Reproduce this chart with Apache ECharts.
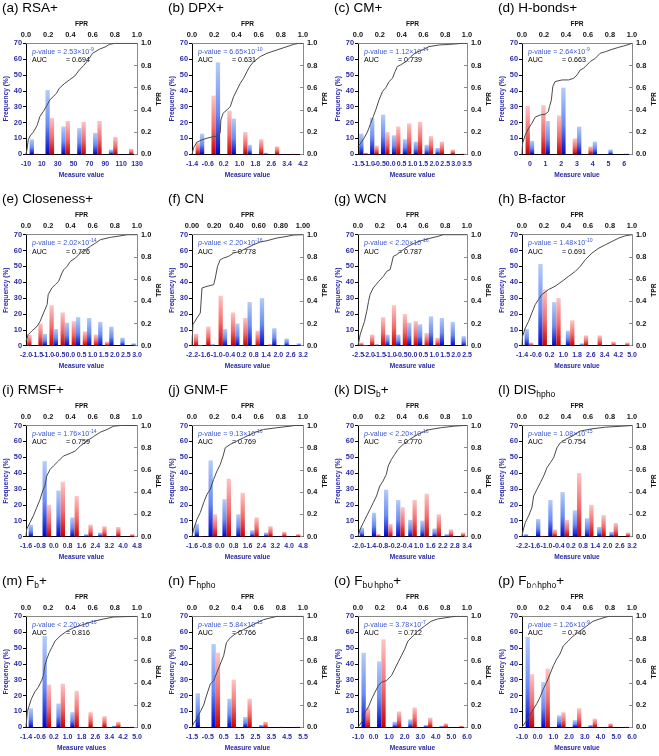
<!DOCTYPE html>
<html><head><meta charset="utf-8">
<script src="https://cdn.jsdelivr.net/npm/echarts@6/dist/echarts.min.js"></script>
<style>html,body{margin:0;padding:0;background:#fff}#c{width:659px;height:756px}</style>
</head><body><div id="c"></div>
<script>
// ---------- DATA ----------
const panelIds = ['a','b','c','d','e','f','g','h','i','j','k','l','m','n','o','p'];
const titleParts = [['RSA+'],['DPX+'],['CM+'],['H-bonds+'],['Closeness+'],['CN'],['WCN'],['B-factor'],['RMSF+'],['GNM-F'],['DIS','b','+'],['DIS','hpho',''],['F','b','+'],['F','hpho',''],['F','b\u222Ahpho','+'],['F','b\u2229hpho','+']];
const xNames = ['Measure value','Measure value','Measure value','Measure value','Measure value','Measure value','Measure value','Measure value','Measure value','Measure value','Measure value','Measure value','Measure values','Measure value','Measure value','Measure value'];
const pOps = ['=','=','=','=','=','<','<','=','=','=','<','=','<','=','=','='];
const pMant = ['2.53','6.65','1.12','2.64','2.02','2.20','2.20','1.48','1.76','9.13','2.20','1.08','2.20','5.84','3.78','1.26'];
const pExp = ['-9','-10','-14','-9','-14','-16','-16','-10','-14','-16','-16','-15','-16','-15','-7','-9'];
const aucValues = ['0.694','0.631','0.739','0.663','0.726','0.778','0.787','0.691','0.759','0.769','0.770','0.754','0.816','0.766','0.712','0.746'];
const redFirstPanels = ['b','d','e','f','g'];
const fprDecimals = [1,1,1,1,1,2,1,1,1,1,1,1,1,1,1,1];

const tickLabels = [
 ['-10','10','30','50','70','90','110','130'],
 ['-1.4','-0.6','0.2','1.0','1.8','2.6','3.4','4.2'],
 ['-1.5','-1.0','-0.5','0.0','0.5','1.0','1.5','2.0','2.5','3.0','3.5'],
 ['0','1','2','3','4','5','6'],
 ['-2.0','-1.5','-1.0','-0.5','0.0','0.5','1.0','1.5','2.0','2.5','3.0'],
 ['-2.2','-1.6','-1.0','-0.4','0.2','0.8','1.4','2.0','2.6','3.2'],
 ['-2.5','-2.0','-1.5','-1.0','-0.5','0.0','0.5','1.0','1.5','2.0','2.5'],
 ['-1.4','-0.6','0.2','1.0','1.8','2.6','3.4','4.2','5.0'],
 ['-1.6','-0.8','0.0','0.8','1.6','2.4','3.2','4.0','4.8'],
 ['-1.6','-0.8','0.0','0.8','1.6','2.4','3.2','4.0','4.8'],
 ['-2.0','-1.4','-0.8','-0.2','-0.4','1.0','1.6','2.2','2.8','3.4'],
 ['-2.2','-1.6','-1.0','-0.4','0.2','0.8','1.4','2.0','2.6','3.2'],
 ['-1.4','-0.6','0.2','1.0','1.8','2.6','3.4','4.2','5.0'],
 ['-1.5','-0.5','0.5','1.5','2.5','3.5','4.5','5.5'],
 ['-1.0','0.0','1.0','2.0','3.0','4.0','5.0','6.0'],
 ['-1.0','0.0','1.0','2.0','3.0','4.0','5.0','6.0']
];
const blueValues = [
 [9.5,40.5,17.5,16.5,13.5,3,0.3],
 [13,58,22.5,6,1,0.3,0],
 [13,23,25,12,9.5,8,6,4,0,0],
 [8.5,21,42,17.5,8,3,0.5],
 [0,7.5,10.5,14.5,18,17.5,15,12,5,1.5],
 [0.3,1,10.5,14,27.5,30,11,4.5,1.5],
 [0.3,1,7,7,14.5,13.5,18.5,17.5,15,6],
 [10.5,51.5,27.5,9.5,1.5,0,0,0],
 [7.5,47.5,29,12,1.5,2.5,0.5,0],
 [8,48,23.5,14,4,2.5,0.5,0],
 [5.5,15,29.5,23,10.5,10,5,1.5,0],
 [1.5,11,23,28,16.5,11.5,6,3,0],
 [12,57.5,15,9.5,0.3,0.2,1,0],
 [21.5,52.5,18,6.5,1.5,0,0],
 [47,41.5,3.5,5,1.5,1,0],
 [57,28.5,7.5,4.5,1.5,0.3,0]
];
const redValues = [
 [0.5,23,21,20.5,21,11,3.5],
 [7.5,37,27.5,14,9.5,5,0.5],
 [1,5.5,14,17.5,19.5,20.5,11.5,8,3,0.5],
 [30.5,31,24.5,10,5,0,0],
 [7,14,25.5,21,15.5,9,7,2.5,0,0],
 [7.5,12,31.5,21,17.5,9.5,1,0.3,0],
 [2,7,18,25.5,20,15.5,8,5,0,0],
 [2,35.5,30,16,6.5,6.5,2.5,2],
 [0,20,34.5,25.5,7.5,6.5,6,1.5],
 [0.3,14,36.5,27.5,12,6.5,3,1.5],
 [0,1.5,8,18.5,23,27,14,4.5,2.5],
 [0,0.5,4.5,10.5,40,20,13.5,8.5,2.5],
 [0,27,27.5,23,9.5,7,3.5,0.5],
 [0,47,30,18,3.5,0.5,0.5],
 [12.5,55.5,10,12.5,6,2.5,1],
 [33.5,37,9.5,12,5.5,2.5,0.5]
];
// ROC curves: [FPR, TPR]
const rocCurves = [
 [[0,0],[0.01,0.05],[0.02,0.13],[0.036,0.165],[0.066,0.2],[0.1,0.26],[0.125,0.34],[0.155,0.385],[0.185,0.435],[0.215,0.49],[0.245,0.52],[0.275,0.55],[0.3,0.595],[0.35,0.64],[0.39,0.67],[0.44,0.705],[0.48,0.76],[0.52,0.8],[0.56,0.85],[0.6,0.91],[0.66,0.946],[0.72,0.97],[0.75,0.99],[0.8,1],[1,1]],
 [[0,0],[0.015,0.06],[0.045,0.11],[0.09,0.13],[0.135,0.145],[0.195,0.16],[0.24,0.165],[0.255,0.2],[0.26,0.31],[0.28,0.37],[0.315,0.4],[0.345,0.43],[0.375,0.52],[0.405,0.58],[0.435,0.64],[0.465,0.685],[0.495,0.745],[0.52,0.79],[0.555,0.835],[0.615,0.88],[0.675,0.91],[0.765,0.94],[0.855,0.97],[0.915,0.99],[0.96,1],[1,1]],
 [[0,0.07],[0.025,0.1],[0.055,0.145],[0.086,0.2],[0.117,0.28],[0.14,0.34],[0.163,0.4],[0.193,0.49],[0.224,0.565],[0.255,0.6],[0.285,0.655],[0.316,0.685],[0.34,0.745],[0.36,0.79],[0.39,0.805],[0.44,0.835],[0.485,0.88],[0.53,0.916],[0.59,0.94],[0.65,0.97],[0.745,0.985],[0.84,0.99],[0.96,1],[1,1]],
 [[0,0],[0.005,0.1],[0.03,0.175],[0.06,0.235],[0.09,0.28],[0.12,0.335],[0.167,0.355],[0.21,0.36],[0.24,0.385],[0.25,0.43],[0.267,0.49],[0.28,0.61],[0.3,0.655],[0.364,0.67],[0.424,0.67],[0.47,0.685],[0.5,0.715],[0.53,0.76],[0.56,0.775],[0.59,0.805],[0.62,0.835],[0.667,0.865],[0.71,0.91],[0.76,0.925],[0.82,0.946],[0.88,0.964],[0.924,0.976],[0.955,0.985],[0.96,1],[1,1]],
 [[0,0.04],[0.02,0.1],[0.05,0.13],[0.1,0.175],[0.127,0.22],[0.158,0.295],[0.19,0.37],[0.2,0.46],[0.233,0.52],[0.264,0.55],[0.294,0.58],[0.324,0.655],[0.34,0.685],[0.37,0.715],[0.4,0.76],[0.445,0.79],[0.49,0.835],[0.536,0.865],[0.58,0.895],[0.627,0.925],[0.67,0.955],[0.76,0.976],[0.82,0.985],[0.915,1],[1,1]],
 [[0,0],[0.008,0.19],[0.045,0.25],[0.075,0.295],[0.09,0.52],[0.135,0.535],[0.195,0.55],[0.21,0.61],[0.23,0.715],[0.255,0.775],[0.285,0.79],[0.33,0.805],[0.375,0.835],[0.435,0.85],[0.495,0.88],[0.555,0.91],[0.615,0.934],[0.675,0.946],[0.765,0.97],[0.855,0.985],[0.915,0.997],[1,1]],
 [[0,0],[0.02,0.1],[0.04,0.16],[0.06,0.22],[0.08,0.31],[0.097,0.4],[0.11,0.46],[0.14,0.52],[0.19,0.58],[0.233,0.625],[0.264,0.67],[0.294,0.685],[0.31,0.745],[0.324,0.805],[0.355,0.82],[0.415,0.865],[0.46,0.895],[0.52,0.925],[0.58,0.946],[0.67,0.97],[0.733,0.985],[0.78,1],[1,1]],
 [[0,0],[0.005,0.085],[0.03,0.16],[0.06,0.22],[0.09,0.295],[0.12,0.37],[0.15,0.415],[0.18,0.46],[0.24,0.505],[0.3,0.535],[0.364,0.58],[0.424,0.625],[0.485,0.67],[0.53,0.715],[0.576,0.775],[0.636,0.835],[0.7,0.88],[0.76,0.91],[0.82,0.94],[0.88,0.97],[0.94,0.99],[1,1]],
 [[0,0],[0.006,0.066],[0.036,0.126],[0.066,0.186],[0.096,0.26],[0.127,0.335],[0.15,0.41],[0.17,0.455],[0.187,0.545],[0.217,0.605],[0.247,0.635],[0.292,0.68],[0.337,0.725],[0.4,0.75],[0.443,0.77],[0.488,0.814],[0.548,0.86],[0.608,0.9],[0.67,0.94],[0.73,0.964],[0.79,0.994],[0.85,1],[1,1]],
 [[0,0],[0.015,0.066],[0.045,0.156],[0.075,0.216],[0.105,0.305],[0.135,0.38],[0.165,0.425],[0.195,0.515],[0.225,0.59],[0.255,0.65],[0.28,0.725],[0.3,0.8],[0.345,0.83],[0.405,0.86],[0.465,0.89],[0.555,0.934],[0.645,0.964],[0.765,0.98],[0.885,0.994],[0.92,1],[1,1]],
 [[0,0],[0.02,0.066],[0.05,0.126],[0.08,0.186],[0.11,0.245],[0.14,0.305],[0.17,0.365],[0.2,0.455],[0.23,0.5],[0.26,0.56],[0.277,0.635],[0.307,0.695],[0.337,0.74],[0.367,0.785],[0.413,0.83],[0.473,0.874],[0.548,0.92],[0.64,0.96],[0.76,0.98],[0.88,0.994],[0.97,1],[1,1]],
 [[0,0],[0.009,0.05],[0.03,0.126],[0.06,0.186],[0.09,0.26],[0.106,0.365],[0.136,0.425],[0.167,0.485],[0.197,0.545],[0.227,0.62],[0.258,0.665],[0.288,0.71],[0.318,0.8],[0.348,0.844],[0.394,0.874],[0.455,0.904],[0.53,0.95],[0.636,0.97],[0.758,0.985],[0.91,0.994],[1,1]],
 [[0,0],[0.012,0.14],[0.03,0.2],[0.05,0.26],[0.08,0.32],[0.11,0.36],[0.14,0.42],[0.157,0.466],[0.17,0.555],[0.187,0.614],[0.21,0.674],[0.232,0.718],[0.262,0.777],[0.307,0.822],[0.367,0.866],[0.428,0.896],[0.518,0.926],[0.608,0.955],[0.7,0.976],[0.79,0.994],[0.804,1],[1,1]],
 [[0,0],[0.015,0.036],[0.045,0.08],[0.075,0.14],[0.105,0.2],[0.135,0.3],[0.165,0.39],[0.195,0.42],[0.225,0.496],[0.255,0.57],[0.285,0.644],[0.31,0.763],[0.345,0.807],[0.405,0.852],[0.465,0.88],[0.555,0.926],[0.645,0.97],[0.705,0.985],[0.766,1],[1,1]],
 [[0,0],[0.036,0.05],[0.066,0.14],[0.096,0.184],[0.127,0.258],[0.157,0.318],[0.187,0.377],[0.217,0.407],[0.262,0.42],[0.307,0.466],[0.337,0.525],[0.367,0.585],[0.398,0.644],[0.428,0.703],[0.458,0.777],[0.503,0.822],[0.548,0.866],[0.608,0.91],[0.67,0.955],[0.73,0.976],[0.79,0.985],[0.85,0.994],[0.9,1],[1,1]],
 [[0,0],[0.045,0.065],[0.09,0.14],[0.135,0.214],[0.165,0.273],[0.195,0.347],[0.225,0.407],[0.255,0.48],[0.285,0.555],[0.315,0.614],[0.345,0.66],[0.375,0.733],[0.42,0.777],[0.465,0.822],[0.525,0.866],[0.585,0.91],[0.645,0.955],[0.706,0.976],[0.766,0.994],[0.795,1],[1,1]]
];
const freqTicks = {min:0, max:70, interval:10};
const rateTicks = {min:0, max:1, interval:0.2};

// ---------- LAYOUT / STYLE ----------
const colLeft = [26, 192, 358, 522];
const colWidth = [111, 111, 109, 110];
const rowTop = [43.3, 234.7, 425.5, 616.3];
const plotH = 111;
const FONT = 'Liberation Sans, Arial, Helvetica, sans-serif';
const axisBlue = '#2a2aa6';
const pBlue = '#3a58d6';
const tickSize = 7.4, xTickSize = 7, nameSize = 6.6, noteSize = 7.1;

const chart = echarts.init(document.getElementById('c'), null, {renderer:'canvas'});
const grids = [], xAxes = [], yAxes = [], series = [], graphics = [];

function gradBlue(){ return new echarts.graphic.LinearGradient(0,0,0,1,[{offset:0,color:'#b6ccf8'},{offset:0.55,color:'#6a8cf2'},{offset:1,color:'#0008c8'}]); }
function gradRed(){ return new echarts.graphic.LinearGradient(0,0,0,1,[{offset:0,color:'#fcc6c6'},{offset:0.55,color:'#f26a6a'},{offset:1,color:'#c80000'}]); }

panelIds.forEach((id, i) => {
  const c = i % 4, r = Math.floor(i / 4);
  const L = colLeft[c], W = colWidth[c], T = rowTop[r];
  grids.push({left:L, top:T, width:W, height:plotH, containLabel:false});
  const nb = blueValues[i].length;
  const bins = blueValues[i].map((_, j) => 'bin' + j);
  const xb = xAxes.length;
  xAxes.push({type:'category', gridIndex:i, data:bins, boundaryGap:true, position:'bottom',
    axisLine:{lineStyle:{color:'#000', width:1}}, axisTick:{show:false}, axisLabel:{show:false}, splitLine:{show:false}});
  xAxes.push({type:'category', gridIndex:i, data:tickLabels[i], boundaryGap: tickLabels[i].length === nb, position:'bottom',
    axisLine:{show:false}, axisTick:{show:false}, splitLine:{show:false},
    axisLabel:{interval:0, color:axisBlue, fontWeight:'bold', fontSize:xTickSize, fontFamily:FONT, margin:6},
    name:xNames[i], nameLocation:'middle', nameGap:17,
    nameTextStyle:{color:axisBlue, fontWeight:'bold', fontSize:nameSize, fontFamily:FONT}});
  const dec = fprDecimals[i];
  xAxes.push({type:'value', gridIndex:i, position:'top', min:rateTicks.min, max:rateTicks.max, interval:rateTicks.interval,
    axisLine:{show:true, lineStyle:{color:'#8a8a8a', width:1}}, axisTick:{show:false}, splitLine:{show:false},
    axisLabel:{color:'#111', fontWeight:'bold', fontSize:tickSize, fontFamily:FONT, margin:5, formatter:v => v.toFixed(dec)},
    name:'FPR', nameLocation:'middle', nameGap:16,
    nameTextStyle:{color:'#111', fontWeight:'bold', fontSize:nameSize, fontFamily:FONT}});
  const yb = yAxes.length;
  yAxes.push({type:'value', gridIndex:i, position:'left', min:freqTicks.min, max:freqTicks.max, interval:freqTicks.interval,
    axisLine:{show:true, lineStyle:{color:'#000', width:1}}, axisTick:{show:true, inside:false, length:3, lineStyle:{color:'#000'}},
    splitLine:{show:false},
    axisLabel:{color:axisBlue, fontWeight:'bold', fontSize:tickSize, fontFamily:FONT, margin:4},
    name:'Frequency (%)', nameLocation:'middle', nameGap:15,
    nameTextStyle:{color:axisBlue, fontWeight:'bold', fontSize:nameSize, fontFamily:FONT}});
  yAxes.push({type:'value', gridIndex:i, position:'right', min:rateTicks.min, max:rateTicks.max, interval:rateTicks.interval,
    axisLine:{show:true, lineStyle:{color:'#8a8a8a', width:1}}, axisTick:{show:true, inside:true, length:3, lineStyle:{color:'#8a8a8a'}},
    splitLine:{show:false},
    axisLabel:{color:'#111', fontWeight:'bold', fontSize:tickSize, fontFamily:FONT, margin:4, formatter:v => v.toFixed(1)},
    name:'TPR', nameLocation:'middle', nameGap:17,
    nameTextStyle:{color:'#111', fontWeight:'bold', fontSize:nameSize, fontFamily:FONT}});

  const blueS = {type:'bar', xAxisIndex:xb, yAxisIndex:yb, data:blueValues[i], barWidth:4.3, barGap:'0%',
    itemStyle:{color:gradBlue()}, silent:true, z:2};
  const redS = {type:'bar', xAxisIndex:xb, yAxisIndex:yb, data:redValues[i], barWidth:4.3, barGap:'0%',
    itemStyle:{color:gradRed()}, silent:true, z:2};
  if (redFirstPanels.includes(id)) { series.push(redS, blueS); } else { series.push(blueS, redS); }
  series.push({type:'line', xAxisIndex:xb+2, yAxisIndex:yb+1, data:rocCurves[i], showSymbol:false, symbol:'none',
    lineStyle:{color:'#4a4a4a', width:1}, silent:true, z:4, animation:false});

  const tp = titleParts[i];
  let ttext = '{t|(' + id + ') ' + tp[0] + '}';
  if (tp.length > 1) { ttext += '{s|' + tp[1] + '}' + (tp[2] ? '{t|' + tp[2] + '}' : ''); }
  graphics.push({type:'text', x:L - 24, y:T - 35, z:10, style:{text:ttext, verticalAlign:'middle', align:'left',
    rich:{t:{fontSize:13.5, fontFamily:FONT, fill:'#000', lineHeight:18},
          s:{fontSize:8.5, fontFamily:FONT, fill:'#000', lineHeight:11, verticalAlign:'bottom'}}}});
  const ptext = '{i|p}{n|-value ' + pOps[i] + ' ' + pMant[i] + '\u00D710}{e|' + pExp[i] + '}';
  graphics.push({type:'text', x:L + 6, y:T + 8.5, z:3, style:{text:ptext, verticalAlign:'middle', align:'left',
    rich:{i:{fontSize:noteSize, fontStyle:'italic', fontFamily:FONT, fill:pBlue, lineHeight:10},
          n:{fontSize:noteSize, fontFamily:FONT, fill:pBlue, lineHeight:10},
          e:{fontSize:noteSize*0.72, fontFamily:FONT, fill:pBlue, lineHeight:6, verticalAlign:'top'}}}});
  graphics.push({type:'text', x:L + 6, y:T + 17, z:3, style:{text:'{a|AUC}{n|= ' + aucValues[i] + '}', verticalAlign:'middle', align:'left',
    rich:{a:{fontSize:noteSize, fontFamily:FONT, fill:'#000', width:34},
          n:{fontSize:noteSize, fontFamily:FONT, fill:'#000'}}}});
});

chart.setOption({
  animation:false,
  backgroundColor:'#fff',
  grid:grids, xAxis:xAxes, yAxis:yAxes, series:series, graphic:graphics
});
</script>
</body></html>
